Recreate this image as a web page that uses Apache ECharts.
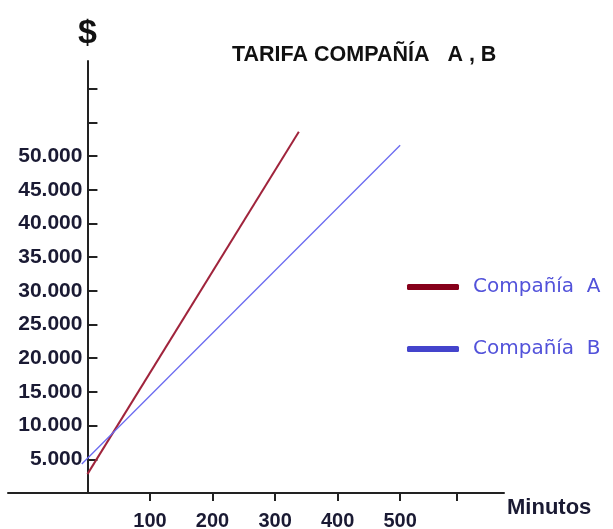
<!DOCTYPE html>
<html>
<head>
<meta charset="utf-8">
<script src="https://cdn.jsdelivr.net/npm/echarts@6/dist/echarts.min.js"></script>
<style>html,body{margin:0;padding:0;background:#fff}#c{width:613px;height:529px}</style>
</head>
<body>
<div id="c"></div>
<script>
// ---- data ----
var titleText = 'TARIFA COMPAÑÍA   A , B';
var seriesNames = ['Compañía  A', 'Compañía  B'];
// [minutos, $]
var companyA = [[0, 2800], [338, 53600]];
var companyB = [[-9, 4300], [500, 51600]];
var xLabelValues = [100, 200, 300, 400, 500];
var xTickValues = [100, 200, 300, 400, 500, 591];
var yLabelValues = [5000, 10000, 15000, 20000, 25000, 30000, 35000, 40000, 45000, 50000];
var yTickValues = [5000, 10000, 15000, 20000, 25000, 30000, 35000, 40000, 45000, 50000, 55000, 60000];

var xMin = -127, xMax = 666;
var gridLeft = 8, gridRight = 109, chartW = 613;

var chart = echarts.init(document.getElementById('c'));
var labelFont = 'Liberation Sans, Arial, sans-serif';
// put the y axis where x = 0 (axis, ticks and labels together)
var gridW = chartW - gridLeft - gridRight;
var yAxisShift = (0 - xMin) / (xMax - xMin) * gridW;

chart.setOption({
  animation: false,
  backgroundColor: '#fff',
  title: {
    text: titleText,
    left: 232, top: 44, padding: 0,
    textStyle: { fontFamily: labelFont, fontWeight: 'bold', fontSize: 21.5, color: '#111' }
  },
  legend: {
    orient: 'vertical',
    left: 407, top: 275, padding: 0,
    itemWidth: 52, itemHeight: 6,
    itemGap: 38,
    icon: 'roundRect',
    data: [
      { name: seriesNames[0], itemStyle: { color: '#86001a' } },
      { name: seriesNames[1], itemStyle: { color: '#4444cc' } }
    ],
    textStyle: { fontFamily: 'DejaVu Sans, Verdana, sans-serif', fontSize: 20, color: '#5252da', lineHeight: 24, padding: [0, 0, 0, 9] }
  },
  grid: { left: gridLeft, right: gridRight, top: 61, bottom: 36, containLabel: false, outerBoundsMode: 'none' },
  xAxis: {
    type: 'value', min: xMin, max: xMax,
    name: 'Minutos', nameLocation: 'end', nameGap: 3,
    nameTextStyle: { fontFamily: labelFont, fontWeight: 'bold', fontSize: 22, color: '#1a1a33', align: 'left', verticalAlign: 'top', lineHeight: 24, padding: [3, 0, 0, 0] },
    axisLine: { show: true, onZero: false, lineStyle: { color: '#222', width: 2 } },
    axisTick: { show: true, inside: false, length: 8, lineStyle: { color: '#222', width: 2 }, customValues: xTickValues },
    axisLabel: { show: true, margin: 18, customValues: xLabelValues, fontFamily: labelFont, fontWeight: 'bold', fontSize: 20, color: '#1a1a33' },
    splitLine: { show: false }
  },
  yAxis: {
    type: 'value', min: 0, max: 64100,
    offset: -yAxisShift,
    name: '$', nameLocation: 'end', nameGap: 10,
    nameTextStyle: { fontFamily: labelFont, fontWeight: 'bold', fontSize: 34, color: '#111', align: 'center' },
    axisLine: { show: true, onZero: false, lineStyle: { color: '#222', width: 2 } },
    axisTick: { show: true, inside: true, length: 10, lineStyle: { color: '#222', width: 2 }, customValues: yTickValues },
    axisLabel: {
      show: true, margin: 5, customValues: yLabelValues,
      fontFamily: labelFont, fontWeight: 'bold', fontSize: 21, color: '#1a1a33',
      formatter: function (v) { return (v / 1000) + '.000'; }
    },
    splitLine: { show: false }
  },
  series: [
    {
      name: seriesNames[0], type: 'line', data: companyA,
      showSymbol: false, symbol: 'none',
      itemStyle: { color: '#86001a' },
      lineStyle: { color: '#a0243c', width: 2 }
    },
    {
      name: seriesNames[1], type: 'line', data: companyB,
      showSymbol: false, symbol: 'none',
      itemStyle: { color: '#4444cc' },
      lineStyle: { color: '#6a6af0', width: 1.3 }
    }
  ]
});
</script>
</body>
</html>
